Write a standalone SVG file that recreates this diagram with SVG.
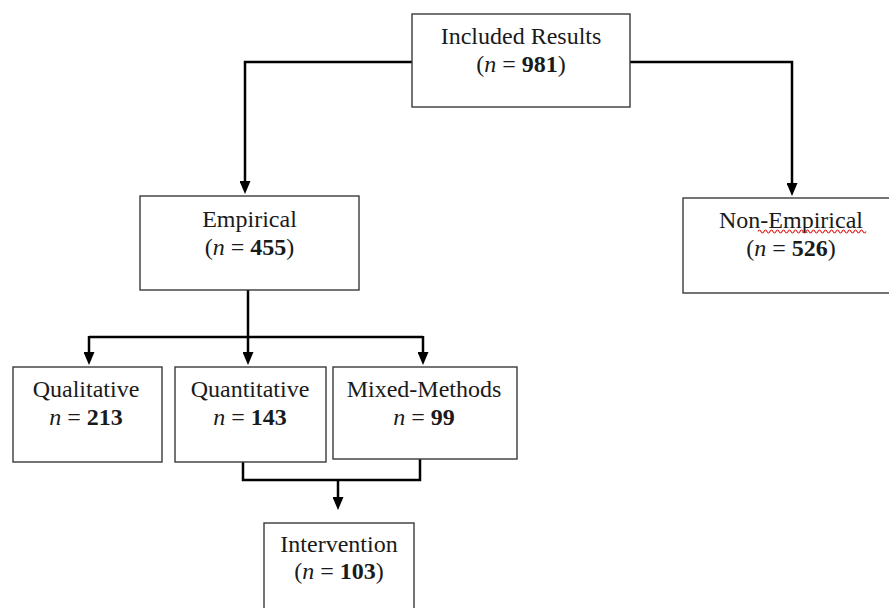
<svg xmlns="http://www.w3.org/2000/svg" width="889" height="608" viewBox="0 0 889 608">
<style>
.box{fill:#fff;stroke:#3a3a3a;stroke-width:1.4}
.t{font-family:"Liberation Serif","Times New Roman",serif;font-size:24px;fill:#1a1a1a;text-anchor:middle}
.i{font-style:italic}
.b{font-weight:bold}
.c{fill:none;stroke:#000;stroke-width:2.5;marker-end:url(#ah)}
.cn{fill:none;stroke:#000;stroke-width:2.5}
</style>
<defs>
<marker id="ah" markerUnits="userSpaceOnUse" markerWidth="13" markerHeight="11" refX="4" refY="5.5" orient="auto">
<path d="M0,0 L13,5.5 L0,11 z" fill="#000"/>
</marker>
</defs>
<rect width="889" height="608" fill="#fff"/>
<g id="connectors">
<path class="c" d="M412,62 H245 V185"/>
<path class="c" d="M630,62 H792 V187"/>
<path class="cn" d="M248,290 V337"/>
<path class="cn" d="M89,337 H423"/>
<path class="c" d="M89,336 V356"/>
<path class="c" d="M248,336 V356"/>
<path class="c" d="M423,336 V356"/>
<path class="cn" d="M243,462 V480 H420 V459"/>
<path class="c" d="M338,479 V501"/>
</g>
<g id="included">
<rect class="box" x="412" y="14" width="218" height="93"/>
<text class="t" x="521" y="44">Included Results</text>
<text class="t" x="521" y="72">(<tspan class="i">n</tspan> = <tspan class="b">981</tspan>)</text>
</g>
<g id="empirical">
<rect class="box" x="140" y="196" width="219" height="94"/>
<text class="t" x="249.5" y="227">Empirical</text>
<text class="t" x="249.5" y="255">(<tspan class="i">n</tspan> = <tspan class="b">455</tspan>)</text>
</g>
<g id="nonempirical">
<rect class="box" x="683" y="198" width="215" height="95"/>
<text class="t" x="791" y="228">Non-Empirical</text>
<path d="M758,231.5 q1.5,-3 3,0 t3,0 t3,0 t3,0 t3,0 t3,0 t3,0 t3,0 t3,0 t3,0 t3,0 t3,0 t3,0 t3,0 t3,0 t3,0 t3,0 t3,0 t3,0 t3,0 t3,0 t3,0 t3,0 t3,0 t3,0 t3,0 t3,0 t3,0 t3,0 t3,0 t3,0 t3,0 t3,0 t3,0 t3,0 t3,0" fill="none" stroke="#e02020" stroke-width="1.2"/>
<text class="t" x="791" y="256">(<tspan class="i">n</tspan> = <tspan class="b">526</tspan>)</text>
</g>
<g id="qualitative">
<rect class="box" x="13" y="367" width="149" height="95"/>
<text class="t" x="86" y="397">Qualitative</text>
<text class="t" x="86" y="425"><tspan class="i">n</tspan> = <tspan class="b">213</tspan></text>
</g>
<g id="quantitative">
<rect class="box" x="175" y="367" width="151" height="95"/>
<text class="t" x="250" y="397">Quantitative</text>
<text class="t" x="250" y="425"><tspan class="i">n</tspan> = <tspan class="b">143</tspan></text>
</g>
<g id="mixed">
<rect class="box" x="333" y="367" width="184" height="92"/>
<text class="t" x="424" y="397">Mixed-Methods</text>
<text class="t" x="424" y="425"><tspan class="i">n</tspan> = <tspan class="b">99</tspan></text>
</g>
<g id="intervention">
<rect class="box" x="264" y="523" width="150" height="95"/>
<text class="t" x="339" y="552">Intervention</text>
<text class="t" x="339" y="579">(<tspan class="i">n</tspan> = <tspan class="b">103</tspan>)</text>
</g>
</svg>
